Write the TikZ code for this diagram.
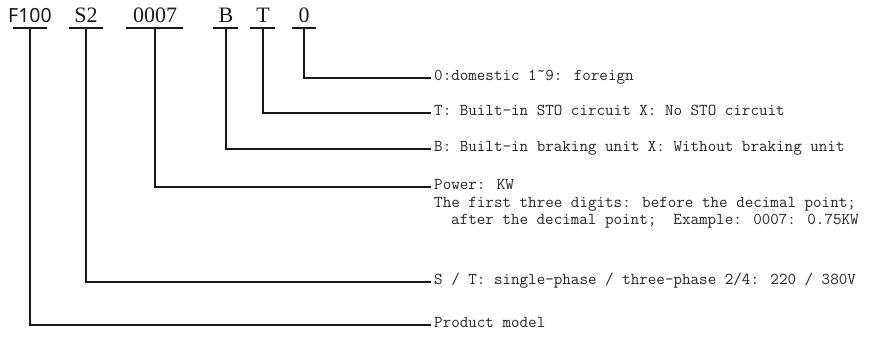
\documentclass[tikz,border=0pt]{standalone}
\usepackage{fontspec}
\newfontfamily\fsans{Noto Sans}
\newfontfamily\fserif{Liberation Serif}
\begin{document}
\begin{tikzpicture}[x=1pt,y=-1pt,
  lbl/.style={inner sep=0pt, anchor=base, text depth=0pt, inner ysep=6pt,
    font=\fserif\fontsize{22}{22}\selectfont, text=black!90},
  desc/.style={anchor=mid west, inner xsep=3pt, inner ysep=0pt,
    font=\ttfamily\addfontfeatures{FakeBold=0.6}\fontsize{16.6}{17}\selectfont, text=black!85},
  uline/.style={line width=1.6pt, black!90},
  conn/.style={line width=1.4pt, black!90}]
\useasboundingbox[fill=white] (0,0) rectangle (878,341);
% code labels
\node[lbl, font=\fsans\fontsize{19.5}{20}\selectfont] (f) at (30,22) {F100};
\node[lbl] (s) at (86,22) {S2};
\node[lbl] (p) at (155,22) {0007};
\node[lbl] (b) at (226,22) {B};
\node[lbl] (t) at (263,22) {T};
\node[lbl] (o) at (304,22) {0};
% underlines
\draw[uline] ([xshift=-17pt]f.south) -- ([xshift=17pt]f.south);
\draw[uline] ([xshift=-17pt]s.south) -- ([xshift=17pt]s.south);
\draw[uline] ([xshift=-29pt]p.south) -- ([xshift=28pt]p.south);
\draw[uline] ([xshift=-13pt]b.south) -- ([xshift=12pt]b.south);
\draw[uline] ([xshift=-13pt]t.south) -- ([xshift=12pt]t.south);
\draw[uline] ([xshift=-12pt]o.south) -- ([xshift=12pt]o.south);
% descriptions
\node[desc] (d1) at (431,78) {0:domestic 1\raisebox{0.45ex}{\~{}}9: foreign};
\node[desc] (d2) at (431,113) {T: Built-in STO circuit X: No STO circuit};
\node[desc] (d3) at (431,149) {B: Built-in braking unit X: Without braking unit};
\node[desc] (d4) at (431,187) {Power: KW};
\node[desc] (d4a) at (431,205) {The first three digits: before the decimal point;};
\node[desc] (d4b) at (448,222) {after the decimal point;\ \ Example: 0007: 0.75KW};
\node[desc] (d5) at (431,282) {S / T: single-phase / three-phase 2/4: 220 / 380V};
\node[desc] (d6) at (431,325) {Product model};
% connectors
\draw[conn] (o.south) |- (d1.mid west);
\draw[conn] (t.south) |- (d2.mid west);
\draw[conn] (b.south) |- (d3.mid west);
\draw[conn] (p.south) |- (d4.mid west);
\draw[conn] (s.south) |- (d5.mid west);
\draw[conn] (f.south) |- (d6.mid west);
\end{tikzpicture}
\end{document}
